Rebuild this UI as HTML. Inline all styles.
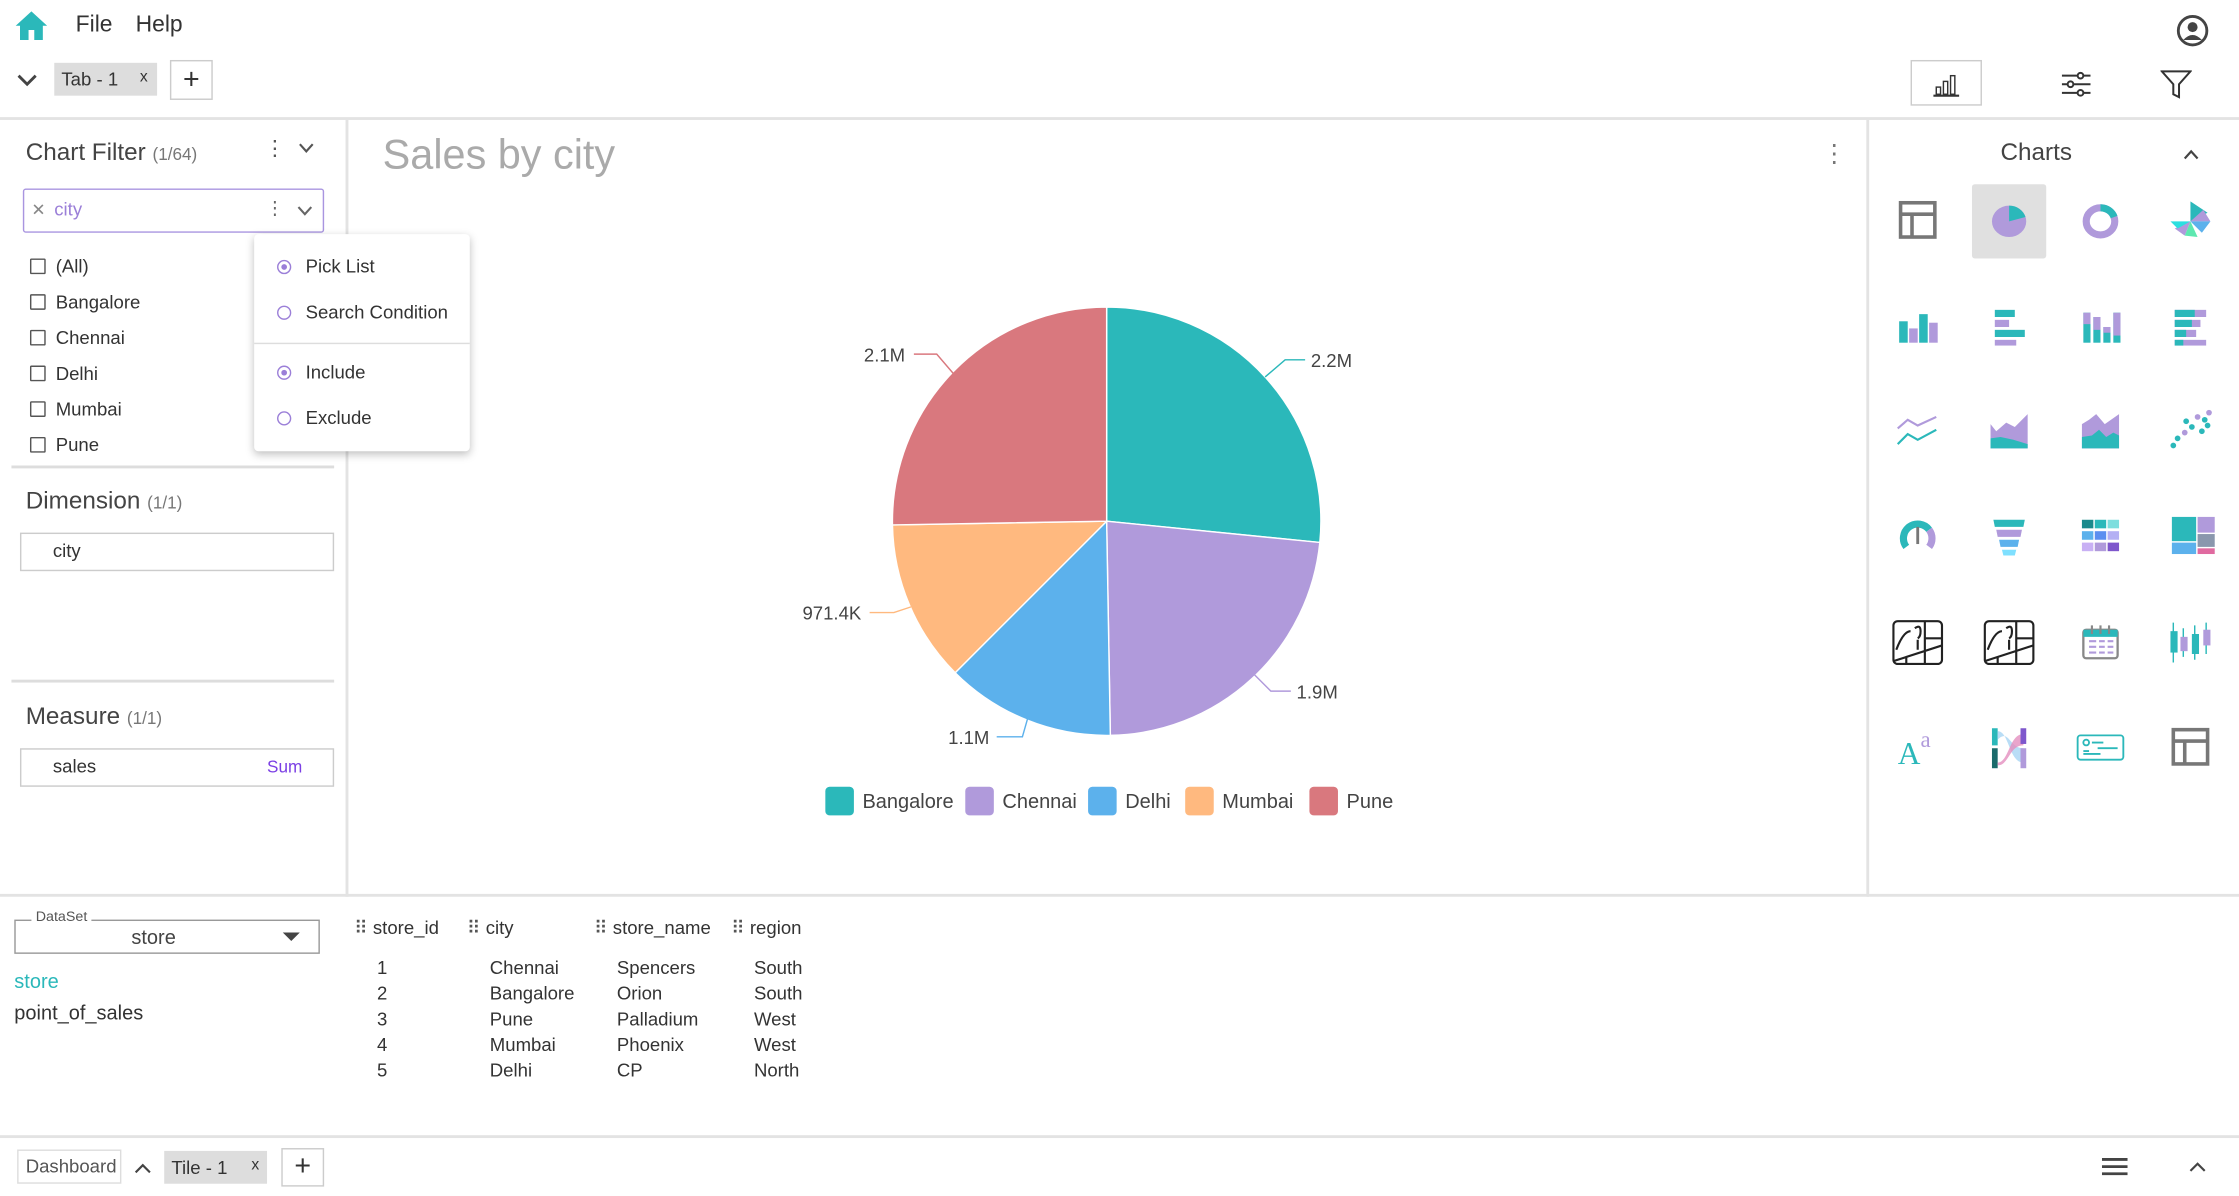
<!DOCTYPE html>
<html><head><meta charset="utf-8"><style>
html,body{margin:0;padding:0;background:#fff;overflow:hidden}
#w{width:1568px;height:837.5px;position:relative;transform:scale(1.42793);transform-origin:0 0;font-family:"Liberation Sans",sans-serif;color:#333}
.a{position:absolute}
.t{position:absolute;white-space:nowrap}
.cb{position:absolute;width:9px;height:9px;border:1.3px solid #555;border-radius:1px}
.rad{position:absolute;width:8px;height:8px;border:1px solid #9b7fd8;border-radius:50%}
</style></head><body><div id="w">
<!-- top bar -->
<svg class="a" style="left:10px;top:7px" width="24" height="22" viewBox="0 0 24 22"><path d="M12 1 L1 11 H4 V21 H10 V14 H14 V21 H20 V11 H23 Z" fill="#2bb8ba"/></svg>
<div class="t" style="left:53px;top:9px;font-size:16px">File</div>
<div class="t" style="left:95px;top:9px;font-size:16px">Help</div>
<svg class="a" style="left:1524px;top:10px" width="23" height="23"><circle cx="11.5" cy="11.5" r="10" fill="none" stroke="#444" stroke-width="2"/><circle cx="11.5" cy="9" r="3.5" fill="#444"/><path d="M5 18 Q11.5 11 18 18" fill="#444"/></svg>
<svg class="a" style="left:12px;top:51px" width="14" height="10"><path d="M1 2 L7 8 L13 2" fill="none" stroke="#444" stroke-width="2"/></svg>
<div class="a" style="left:38px;top:44px;width:72px;height:23px;background:#ddd"></div>
<div class="t" style="left:43px;top:48px;font-size:13px">Tab - 1</div>
<div class="t" style="left:98px;top:48px;font-size:11px">x</div>
<div class="a" style="left:119px;top:42px;width:30px;height:28px;border:1px solid #ccc;box-sizing:border-box;text-align:center;font-size:20px;line-height:26px">+</div>
<div class="a" style="left:1338px;top:42px;width:50px;height:32px;border:1px solid #ccc;box-sizing:border-box"></div>
<svg class="a" style="left:1353px;top:50px" width="20" height="18"><path d="M1 17 H19" stroke="#333" stroke-width="1.5"/><rect x="3" y="11" width="3" height="5" fill="none" stroke="#333"/><rect x="8" y="7" width="3" height="9" fill="none" stroke="#333"/><rect x="13" y="3" width="3" height="13" fill="none" stroke="#333"/></svg>
<svg class="a" style="left:1443px;top:50px" width="22" height="18"><g stroke="#333" stroke-width="1.4" fill="#fff"><path d="M1 3H21M1 9H21M1 15H21"/><circle cx="14" cy="3" r="2"/><circle cx="7" cy="9" r="2"/><circle cx="14" cy="15" r="2"/></g></svg>
<svg class="a" style="left:1513px;top:48px" width="22" height="22"><path d="M1 2 H21 L13 11 V20 L9 18 V11 Z" fill="none" stroke="#333" stroke-width="1.4"/></svg>
<div class="a" style="left:0;top:82px;width:1568px;height:2px;background:#e3e3e3"></div>
<!-- left panel -->
<div class="a" style="left:242px;top:84px;width:2px;height:544px;background:#e3e3e3"></div>
<div class="t" style="left:18px;top:97px;font-size:17px;color:#444">Chart Filter <span style="font-size:12px;color:#777">(1/64)</span></div>
<div class="t" style="left:185px;top:95px;font-size:15px;color:#555">⋮</div>
<svg class="a" style="left:209px;top:100px" width="11" height="8"><path d="M1 1 L5.5 6 L10 1" fill="none" stroke="#555" stroke-width="1.5"/></svg>
<div class="a" style="left:16px;top:132px;width:211px;height:31px;border:1px solid #a995e0;box-sizing:border-box;border-radius:2px"></div>
<div class="t" style="left:22px;top:140px;font-size:12px;color:#888">✕</div>
<div class="t" style="left:38px;top:139px;font-size:13px;color:#9b7fd8">city</div>
<div class="t" style="left:186px;top:138px;font-size:13px;color:#666">⋮</div>
<svg class="a" style="left:208px;top:144px" width="11" height="8"><path d="M1 1 L5.5 6 L10 1" fill="none" stroke="#666" stroke-width="1.5"/></svg>
<div class="cb" style="left:21px;top:181px"></div><div class="t" style="left:39px;top:179px;font-size:13px">(All)</div>
<div class="cb" style="left:21px;top:206px"></div><div class="t" style="left:39px;top:204px;font-size:13px">Bangalore</div>
<div class="cb" style="left:21px;top:231px"></div><div class="t" style="left:39px;top:229px;font-size:13px">Chennai</div>
<div class="cb" style="left:21px;top:256px"></div><div class="t" style="left:39px;top:254px;font-size:13px">Delhi</div>
<div class="cb" style="left:21px;top:281px"></div><div class="t" style="left:39px;top:279px;font-size:13px">Mumbai</div>
<div class="cb" style="left:21px;top:306px"></div><div class="t" style="left:39px;top:304px;font-size:13px">Pune</div>
<div class="a" style="left:8px;top:326px;width:226px;height:2px;background:#ddd"></div>
<div class="t" style="left:18px;top:341px;font-size:17px;color:#444">Dimension <span style="font-size:12px;color:#777">(1/1)</span></div>
<div class="a" style="left:14px;top:373px;width:220px;height:27px;border:1px solid #ccc;box-sizing:border-box"></div>
<div class="t" style="left:37px;top:378px;font-size:13px">city</div>
<div class="a" style="left:8px;top:476px;width:226px;height:2px;background:#ddd"></div>
<div class="t" style="left:18px;top:492px;font-size:17px;color:#444">Measure <span style="font-size:12px;color:#777">(1/1)</span></div>
<div class="a" style="left:14px;top:524px;width:220px;height:27px;border:1px solid #ccc;box-sizing:border-box"></div>
<div class="t" style="left:37px;top:529px;font-size:13px">sales</div>
<div class="t" style="left:187px;top:530px;font-size:12px;color:#7b3fe4">Sum</div>
<!-- popup -->
<div class="a" style="left:178px;top:164px;width:151px;height:152px;background:#fff;box-shadow:0 2px 6px rgba(0,0,0,.25);border-radius:3px"></div>
<div class="rad" style="left:194px;top:182px"></div><div class="a" style="left:197px;top:185px;width:4px;height:4px;border-radius:50%;background:#9b7fd8"></div>
<div class="t" style="left:214px;top:179px;font-size:13px">Pick List</div>
<div class="rad" style="left:194px;top:214px"></div>
<div class="t" style="left:214px;top:211px;font-size:13px">Search Condition</div>
<div class="a" style="left:178px;top:240px;width:151px;height:1px;background:#ddd"></div>
<div class="rad" style="left:194px;top:256px"></div><div class="a" style="left:197px;top:259px;width:4px;height:4px;border-radius:50%;background:#9b7fd8"></div>
<div class="t" style="left:214px;top:253px;font-size:13px">Include</div>
<div class="rad" style="left:194px;top:288px"></div>
<div class="t" style="left:214px;top:285px;font-size:13px">Exclude</div>
<!-- chart -->
<div class="t" style="left:268px;top:93px;font-size:29px;color:#aaa">Sales by city</div>
<div class="t" style="left:1276px;top:98px;font-size:17px;color:#777">⋮</div>
<svg class="a" style="left:0;top:0" width="1300" height="620">
<g stroke="#fff" stroke-width="1">
<path d="M775 365 L775 215 A150 150 0 0 1 924.3 379.9 Z" fill="#2bb8ba"/>
<path d="M775 365 L924.3 379.9 A150 150 0 0 1 777.6 515 Z" fill="#b09adb"/>
<path d="M775 365 L777.6 515 A150 150 0 0 1 668.9 471.1 Z" fill="#5cb1ec"/>
<path d="M775 365 L668.9 471.1 A150 150 0 0 1 625 367.6 Z" fill="#ffb97f"/>
<path d="M775 365 L625 367.6 A150 150 0 0 1 775 215 Z" fill="#d9787e"/>
</g>
<g fill="none" stroke-width="1">
<path d="M886 264 L900 252 H914" stroke="#2bb8ba"/>
<path d="M878 472 L890 484 H904" stroke="#b09adb"/>
<path d="M720 502 L716 516 H698" stroke="#5cb1ec"/>
<path d="M638 425 L626 429 H609" stroke="#ffb97f"/>
<path d="M668 262 L656 248 H640" stroke="#d9787e"/>
</g>
<g font-size="13" fill="#444" font-family="Liberation Sans">
<text x="918" y="257">2.2M</text><text x="908" y="489">1.9M</text><text x="664" y="521">1.1M</text><text x="562" y="434">971.4K</text><text x="605" y="253">2.1M</text>
</g>
<g font-size="14" fill="#444" font-family="Liberation Sans">
<rect x="578" y="551" width="20" height="20" rx="3" fill="#2bb8ba"/><text x="604" y="566">Bangalore</text>
<rect x="676" y="551" width="20" height="20" rx="3" fill="#b09adb"/><text x="702" y="566">Chennai</text>
<rect x="762" y="551" width="20" height="20" rx="3" fill="#5cb1ec"/><text x="788" y="566">Delhi</text>
<rect x="830" y="551" width="20" height="20" rx="3" fill="#ffb97f"/><text x="856" y="566">Mumbai</text>
<rect x="917" y="551" width="20" height="20" rx="3" fill="#d9787e"/><text x="943" y="566">Pune</text>
</g></svg>
<!-- right panel -->
<div class="a" style="left:1307px;top:84px;width:2px;height:544px;background:#e3e3e3"></div>
<div class="t" style="left:1401px;top:97px;font-size:17px;color:#444">Charts</div>
<svg class="a" style="left:1529px;top:104px" width="11" height="8"><path d="M1 7 L5.5 2 L10 7" fill="none" stroke="#444" stroke-width="1.5"/></svg>
<div class="a" style="left:1381px;top:129px;width:52px;height:52px;background:#e0e0e0;border-radius:2px"></div>
<svg class="a" style="left:1310px;top:120px" width="258" height="440">
<g transform="translate(33,35)">
<rect x="-12" y="-13" width="24" height="24" fill="none" stroke="#777" stroke-width="2.5"/><path d="M-12 -5 H12 M-4 -5 V11" stroke="#777" stroke-width="2.5"/>
</g>
<g transform="translate(97,35)"><ellipse cx="0" cy="0" rx="12" ry="11" fill="#b09adb"/><path d="M0 0 L0 -11 A12 11 0 0 1 11.5 -3 Z" fill="#2bb8ba"/></g>
<g transform="translate(161,35)"><ellipse rx="10" ry="9.5" fill="none" stroke="#b09adb" stroke-width="5"/><path d="M0 -9.5 A10 9.5 0 0 1 9.5 -3" stroke="#2bb8ba" stroke-width="5" fill="none"/></g>
<g transform="translate(224,35)"><path d="M0 0 L0 -14 L12 -6Z" fill="#2bb8ba"/><path d="M0 0 L9 -8 L14 0Z" fill="#b09adb"/><path d="M0 0 L14 0 L8 8Z" fill="#5cb1ec"/><path d="M0 0 L5 11 L-4 10Z" fill="#5ee8b0"/><path d="M0 0 L-4 10 L-11 5Z" fill="#b09adb"/><path d="M0 0 L-14 0 L-9 5Z" fill="#2bdfe0"/></g>
<g transform="translate(33,109)"><rect x="-13" y="-4" width="6" height="15" fill="#2bb8ba"/><rect x="-6" y="1" width="6" height="10" fill="#b09adb"/><rect x="1" y="-9" width="6" height="20" fill="#2bb8ba"/><rect x="8" y="-3" width="6" height="14" fill="#b09adb"/></g>
<g transform="translate(97,109)"><rect x="-10" y="-12" width="14" height="5" fill="#2bb8ba"/><rect x="-10" y="-5" width="10" height="5" fill="#b09adb"/><rect x="-10" y="2" width="21" height="5" fill="#2bb8ba"/><rect x="-10" y="9" width="15" height="4" fill="#b09adb"/></g>
<g transform="translate(161,109)"><rect x="-12" y="-10" width="5" height="21" fill="#2bb8ba"/><rect x="-12" y="-10" width="5" height="8" fill="#b09adb"/><rect x="-5" y="-7" width="5" height="18" fill="#2bb8ba"/><rect x="-5" y="-7" width="5" height="9" fill="#b09adb"/><rect x="2" y="0" width="5" height="11" fill="#2bb8ba"/><rect x="2" y="0" width="5" height="4" fill="#b09adb"/><rect x="9" y="-10" width="5" height="21" fill="#2bb8ba"/><rect x="9" y="-10" width="5" height="16" fill="#b09adb"/></g>
<g transform="translate(224,109)"><rect x="-11" y="-12" width="22" height="5" fill="#b09adb"/><rect x="-11" y="-12" width="14" height="5" fill="#2bb8ba"/><rect x="-11" y="-5" width="18" height="5" fill="#b09adb"/><rect x="-11" y="-5" width="12" height="5" fill="#2bb8ba"/><rect x="-11" y="2" width="15" height="5" fill="#b09adb"/><rect x="-11" y="2" width="8" height="5" fill="#2bb8ba"/><rect x="-11" y="9" width="22" height="4" fill="#b09adb"/><rect x="-11" y="9" width="6" height="4" fill="#2bb8ba"/></g>
<g transform="translate(33,182)" fill="none" stroke-width="1.5"><path d="M-14 -2 L-7 -8 L0 -4 L13 -10" stroke="#b09adb"/><path d="M-14 9 L-7 2 L0 6 L13 -1" stroke="#2bb8ba"/></g>
<g transform="translate(97,182)"><path d="M-13 -5 L-9 0 L-2 -6 L4 -3 L13 -12 L13 12 H-13Z" fill="#b09adb"/><path d="M-13 5 L-6 4 L3 6 L13 9 V12 H-13Z" fill="#2bb8ba"/></g>
<g transform="translate(161,182)"><path d="M-13 -5 L-8 -8 L-3 -12 L3 -5 L13 -12 V12 H-13Z" fill="#b09adb"/><path d="M-13 4 L-6 3 L-1 -1 L4 4 L9 1 L13 3 V12 H-13Z" fill="#2bb8ba"/></g>
<g transform="translate(224,182)" fill="#2bb8ba"><circle cx="-12" cy="10" r="2"/><circle cx="-9" cy="5" r="2"/><circle cx="-4" cy="1" r="2" fill="#b09adb"/><circle cx="-3" cy="-7" r="2"/><circle cx="1" cy="-3" r="2"/><circle cx="5" cy="-10" r="2" fill="#b09adb"/><circle cx="10" cy="-8" r="2"/><circle cx="8" cy="0" r="2"/><circle cx="12" cy="-4" r="2"/><circle cx="13" cy="-13" r="2" fill="#b09adb"/></g>
<g transform="translate(33,256)" fill="none" stroke-width="5"><path d="M-8 7 A10 10 0 0 1 8 -5" stroke="#2bb8ba"/><path d="M8 -5 A10 10 0 0 1 8 7" stroke="#b09adb"/><path d="M0 5 L0 -7" stroke="#777" stroke-width="2"/></g>
<g transform="translate(97,256)"><path d="M-11 -12 H11 L10 -7 H-10Z" fill="#2bb8ba"/><path d="M-9 -5 H9 L8 0 H-8Z" fill="#b09adb"/><path d="M-7 2 H7 L6 7 H-6Z" fill="#5cb1ec"/><path d="M-5 9 H5 L4 13 H-4Z" fill="#7fe0ff"/></g>
<g transform="translate(161,256)"><rect x="-13" y="-12" width="8" height="6" fill="#1a8a8c"/><rect x="-4" y="-12" width="8" height="6" fill="#2bb8ba"/><rect x="5" y="-12" width="8" height="6" fill="#7ddede"/><rect x="-13" y="-4" width="8" height="6" fill="#5cb1ec"/><rect x="-4" y="-4" width="8" height="6" fill="#5c8ff0"/><rect x="5" y="-4" width="8" height="6" fill="#b4b0f4"/><rect x="-13" y="4" width="8" height="6" fill="#c8b0f4"/><rect x="-4" y="4" width="8" height="6" fill="#b09adb"/><rect x="5" y="4" width="8" height="6" fill="#7e57cc"/></g>
<g transform="translate(224,256)"><rect x="-13" y="-14" width="17" height="17" fill="#2bb8ba"/><rect x="5" y="-14" width="12" height="11" fill="#b09adb"/><rect x="5" y="-2" width="12" height="9" fill="#8a97ad"/><rect x="5" y="8" width="12" height="4" fill="#e06aa0"/><rect x="-13" y="4" width="17" height="8" fill="#5cb1ec"/></g>
<g transform="translate(33,330)" fill="none" stroke="#222" stroke-width="1.5"><rect x="-17" y="-15" width="34" height="30" rx="3"/><path d="M5 -15 V15 M5 -3 H17 M-17 13 L17 2 M-8 10 V15 M-2 -10 q4 -3 4 2 q0 4 -2 5 M0 -2 V5 M-15 5 Q-10 -8 -5 -8"/></g>
<g transform="translate(97,330)" fill="none" stroke="#222" stroke-width="1.5"><rect x="-17" y="-15" width="34" height="30" rx="3"/><path d="M5 -15 V15 M5 -3 H17 M-17 13 L17 2 M-8 10 V15 M-2 -10 q4 -3 4 2 q0 4 -2 5 M0 -2 V5 M-15 5 Q-10 -8 -5 -8"/></g>
<g transform="translate(161,330)"><rect x="-12" y="-9" width="24" height="20" rx="2" fill="none" stroke="#888" stroke-width="1.6"/><rect x="-12" y="-9" width="24" height="5" fill="#2bb8ba"/><path d="M-6 -12 V-6 M0 -12 V-6 M6 -12 V-6" stroke="#888" stroke-width="1.5"/><path d="M-8 -1 H-3 M-1 -1 H3 M5 -1 H9 M-8 3 H-3 M-1 3 H3 M5 3 H9 M-8 7 H-3 M-1 7 H3 M5 7 H9" stroke="#b09adb" stroke-width="1.5"/></g>
<g transform="translate(224,330)"><path d="M-12 -14 V14 M-5 -10 V10 M3 -12 V12 M11 -14 V8" stroke="#2bb8ba" stroke-width="1"/><rect x="-14" y="-8" width="5" height="15" fill="#2bb8ba"/><rect x="-7" y="-4" width="5" height="10" fill="#b09adb"/><rect x="1" y="-6" width="5" height="14" fill="#2bb8ba"/><rect x="9" y="-9" width="5" height="11" fill="#b09adb"/></g>
<g transform="translate(33,404)"><text x="-14" y="11" font-family="Liberation Serif" font-size="22" fill="#2bb8ba">A</text><text x="2" y="-1" font-family="Liberation Serif" font-size="16" fill="#b09adb">a</text></g>
<g transform="translate(97,404)"><rect x="-12" y="-14" width="4" height="12" fill="#2bb8ba"/><rect x="-12" y="0" width="4" height="14" fill="#1a6b6c"/><path d="M-8 -12 C0 -12 0 10 10 10 V0 C0 0 0 -14 -8 -6Z" fill="#a8d4f4" opacity=".8"/><path d="M-8 10 C0 10 0 -10 10 -10 V-2 C0 -2 0 12 -8 12Z" fill="#e38fbf" opacity=".8"/><rect x="8" y="-14" width="4" height="11" fill="#7e57cc"/><rect x="8" y="0" width="4" height="14" fill="#b09adb"/></g>
<g transform="translate(161,404)" fill="none" stroke="#2bb8ba" stroke-width="1.3"><rect x="-16" y="-9" width="32" height="17" rx="2"/><circle cx="-10" cy="-4" r="2"/><path d="M-6 -4 H2 M-2 0 H12 M-12 4 H0 M-12 2 H-8"/></g>
<g transform="translate(224,404)"><rect x="-12" y="-13" width="24" height="24" fill="none" stroke="#777" stroke-width="2.5"/><path d="M-12 -5 H12 M-4 -5 V11" stroke="#777" stroke-width="2.5"/></g>
</svg>
<!-- bottom data area -->
<div class="a" style="left:0;top:626px;width:1568px;height:2px;background:#e3e3e3"></div>
<div class="a" style="left:10px;top:644px;width:214px;height:24px;border:1px solid #999;box-sizing:border-box"></div>
<div class="t" style="left:22px;top:637px;font-size:10px;color:#555;background:#fff;padding:0 3px">DataSet</div>
<div class="t" style="left:92px;top:648px;font-size:14px;color:#444">store</div>
<svg class="a" style="left:198px;top:653px" width="12" height="7"><path d="M0 0 H12 L6 6Z" fill="#444"/></svg>
<div class="t" style="left:10px;top:679px;font-size:14px;color:#2bb8ba">store</div>
<div class="t" style="left:10px;top:701px;font-size:14px;color:#333">point_of_sales</div>
<div class="t" style="left:248px;top:642px;font-size:13px;color:#333"><span style="color:#555">⠿</span> store_id</div>
<div class="t" style="left:327px;top:642px;font-size:13px;color:#333"><span style="color:#555">⠿</span> city</div>
<div class="t" style="left:416px;top:642px;font-size:13px;color:#333"><span style="color:#555">⠿</span> store_name</div>
<div class="t" style="left:512px;top:642px;font-size:13px;color:#333"><span style="color:#555">⠿</span> region</div>
<div class="t" style="left:264px;top:669px;font-size:13px;line-height:18px">1<br>2<br>3<br>4<br>5</div>
<div class="t" style="left:343px;top:669px;font-size:13px;line-height:18px">Chennai<br>Bangalore<br>Pune<br>Mumbai<br>Delhi</div>
<div class="t" style="left:432px;top:669px;font-size:13px;line-height:18px">Spencers<br>Orion<br>Palladium<br>Phoenix<br>CP</div>
<div class="t" style="left:528px;top:669px;font-size:13px;line-height:18px">South<br>South<br>West<br>West<br>North</div>
<!-- footer -->
<div class="a" style="left:0;top:795px;width:1568px;height:2px;background:#e3e3e3"></div>
<div class="a" style="left:12px;top:805px;width:73px;height:24px;border:1px solid #ddd;box-sizing:border-box"></div>
<div class="t" style="left:18px;top:809px;font-size:13px;color:#555">Dashboard</div>
<svg class="a" style="left:94px;top:814px" width="12" height="8"><path d="M1 7 L6 2 L11 7" fill="none" stroke="#444" stroke-width="1.5"/></svg>
<div class="a" style="left:115px;top:806px;width:72px;height:23px;background:#ddd"></div>
<div class="t" style="left:120px;top:810px;font-size:13px">Tile - 1</div>
<div class="t" style="left:176px;top:810px;font-size:11px">x</div>
<div class="a" style="left:197px;top:804px;width:30px;height:27px;border:1px solid #ccc;box-sizing:border-box;text-align:center;font-size:20px;line-height:25px">+</div>
<svg class="a" style="left:1472px;top:810px" width="18" height="14"><path d="M0 2H18M0 7H18M0 12H18" stroke="#444" stroke-width="2"/></svg>
<svg class="a" style="left:1533px;top:813px" width="12" height="8"><path d="M1 7 L6 2 L11 7" fill="none" stroke="#444" stroke-width="1.5"/></svg>
</div></body></html>
